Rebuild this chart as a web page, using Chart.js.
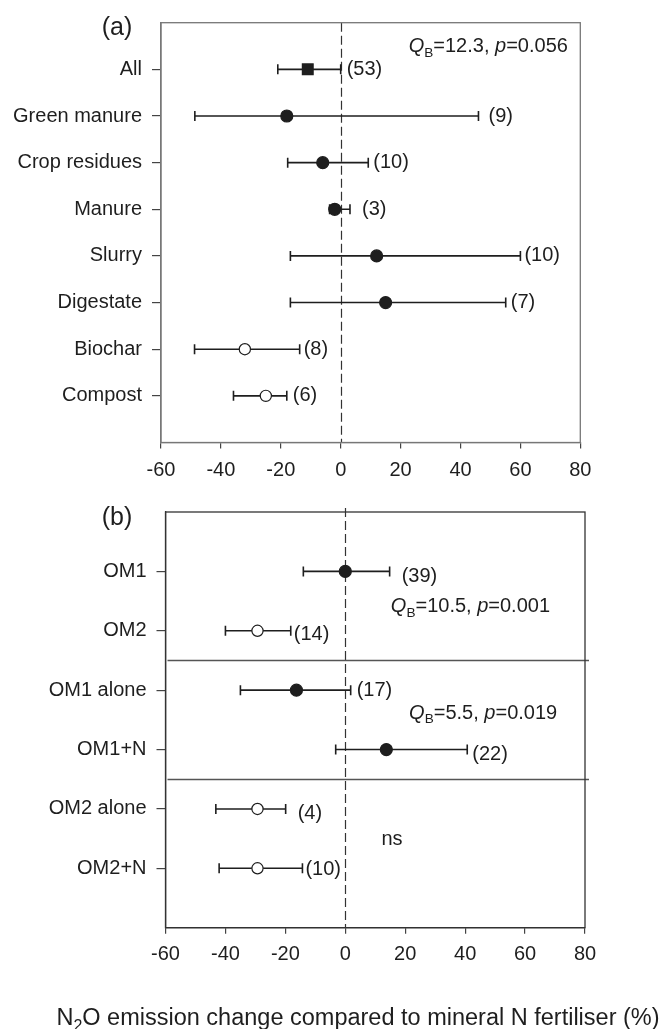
<!DOCTYPE html>
<html>
<head>
<meta charset="utf-8">
<script src="https://cdn.jsdelivr.net/npm/chart.js@4.4.0/dist/chart.umd.min.js"></script>
<style>
  body { margin: 0; background: #fff; }
  canvas { position: absolute; left: 0; }
  #chartA { top: 0; }
  #chartB { top: 490px; }
</style>
</head>
<body>
<canvas id="chartA" width="665" height="490"></canvas>
<canvas id="chartB" width="665" height="539"></canvas>
<script>
// (a) by organic material type
const catsA = ['All', 'Green manure', 'Crop residues', 'Manure', 'Slurry', 'Digestate', 'Biochar', 'Compost'];
const meanA = [-11, -18, -6, -2, 12, 15, -32, -25];
const lowA  = [-21, -48.7, -17.7, -3.7, -16.8, -16.8, -48.8, -35.8];
const highA = [0, 46, 9.2, 3.1, 60, 55.1, -13.7, -18];
const kindA = ['all', 'OM1', 'OM1', 'OM1', 'OM1', 'OM1', 'OM2', 'OM2'];
const nA    = [53, 9, 10, 3, 10, 7, 8, 6];

// (b) by OM group, with and without mineral N
const catsB = ['OM1', 'OM2', 'OM1 alone', 'OM1+N', 'OM2 alone', 'OM2+N'];
const meanB = [0, -29.3, -16.3, 13.7, -29.3, -29.3];
const lowB  = [-14, -40, -35, -3.2, -43.2, -42.1];
const highB = [14.8, -18.2, 1.8, 40.7, -19.9, -14.3];
const kindB = ['OM1', 'OM2', 'OM1', 'OM1', 'OM2', 'OM2'];
const nB    = [39, 14, 17, 22, 4, 10];

const xTicks = [-60, -40, -20, 0, 20, 40, 60, 80];

const FONT = '"Liberation Sans", Arial, Helvetica, sans-serif';
const INK = '#1e1e1e';
const FS = 20;

function drawRich(ctx, segs, x, y, size, align) {
    const fontOf = s => (s.italic ? 'italic ' : '') + (s.sub ? size * 0.68 : size) + 'px ' + FONT;
    let total = 0;
    segs.forEach(s => { ctx.font = fontOf(s); total += ctx.measureText(s.t).width; });
    let cx = align === 'center' ? x - total / 2 : x;
    ctx.textAlign = 'left';
    ctx.textBaseline = 'alphabetic';
    segs.forEach(s => {
        ctx.font = fontOf(s);
        ctx.fillText(s.t, cx, y + (s.sub ? size * 0.24 : 0));
        cx += ctx.measureText(s.t).width;
    });
}

function qbText(qb, p) {
    return [{ t: 'Q', italic: true }, { t: 'B', sub: true }, { t: '=' + qb + ', ' },
            { t: 'p', italic: true }, { t: '=' + p }];
}

const extras = {
    id: 'extras',
    beforeDatasetsDraw(chart, args, o) {
        const { ctx, chartArea: a, scales: { x, y } } = chart;
        ctx.save();
        ctx.strokeStyle = '#333';
        ctx.lineWidth = 1.2;
        ctx.setLineDash([9, 4]);
        const zx = Math.round(x.getPixelForValue(0)) + 0.5;
        ctx.beginPath();
        ctx.moveTo(zx, a.top - o.zeroOver);
        ctx.lineTo(zx, a.bottom);
        ctx.stroke();
        ctx.setLineDash([]);
        ctx.strokeStyle = '#555';
        ctx.lineWidth = 1.3;
        o.separators.forEach(v => {
            const py = Math.round(y.getPixelForValue(v)) + 0.5;
            ctx.beginPath();
            ctx.moveTo(a.left + 2, py);
            ctx.lineTo(a.right + 4, py);
            ctx.stroke();
        });
        ctx.strokeStyle = o.boxColor;
        ctx.strokeRect(a.left, a.top, a.right - a.left, a.bottom - a.top);
        ctx.restore();
    },
    afterDraw(chart, args, o) {
        const { ctx, scales: { x, y } } = chart;
        ctx.save();
        ctx.fillStyle = INK;
        // sample sizes
        ctx.font = FS + 'px ' + FONT;
        ctx.textAlign = 'left';
        ctx.textBaseline = 'middle';
        o.n.forEach((v, i) => {
            ctx.fillText('(' + v + ')', x.getPixelForValue(o.high[i]) + o.gap[i], y.getPixelForValue(i) + o.dy[i]);
        });
        // between-group statistics
        o.notes.forEach(nt => {
            const px = x.getPixelForValue(nt.x), py = y.getPixelForValue(nt.y);
            if (nt.qb) drawRich(ctx, qbText(nt.qb, nt.p), px, py + 7, FS, 'left');
            else drawRich(ctx, [{ t: nt.text }], px, py + 7, FS, 'center');
        });
        // panel letter
        ctx.font = '25px ' + FONT;
        ctx.textAlign = 'center';
        ctx.textBaseline = 'middle';
        ctx.fillText(o.letter, 117, 28);
        if (o.title) drawRich(ctx, o.title.segs, o.title.x, o.title.y, o.title.size, 'center');
        ctx.restore();
    }
};

function buildChart(id, d) {
    const whiskers = d.cats.map((c, i) => ({
        data: [{ x: d.low[i], y: i }, { x: d.high[i], y: i }],
        showLine: true,
        borderColor: INK,
        borderWidth: 1.6,
        pointStyle: 'line',
        pointRotation: 90,
        pointRadius: 5,
        pointBorderWidth: 1.6,
        pointBorderColor: INK,
        order: 1
    }));
    const markers = {
        data: d.mean.map((m, i) => ({ x: m, y: i })),
        pointStyle: d.kind.map(k => k === 'all' ? 'rect' : 'circle'),
        pointRadius: d.kind.map(k => k === 'all' ? 7.6 : (k === 'OM2' ? 5.6 : 6)),
        pointBackgroundColor: d.kind.map(k => k === 'OM2' ? '#fff' : INK),
        pointBorderColor: INK,
        pointBorderWidth: 1.2,
        order: 0
    };
    const a = d.area;
    return new Chart(document.getElementById(id), {
        type: 'scatter',
        data: { datasets: [markers, ...whiskers] },
        options: {
            responsive: false,
            animation: false,
            events: [],
            layout: { padding: { top: a.top, right: 665 - a.right, left: 0, bottom: 0 } },
            plugins: {
                legend: { display: false },
                tooltip: { enabled: false },
                extras: d.extras
            },
            scales: {
                x: {
                    min: -60, max: 80,
                    afterBuildTicks: s => { s.ticks = xTicks.map(v => ({ value: v })); },
                    afterFit: s => { s.height = d.height - a.bottom; },
                    ticks: { font: { family: FONT, size: FS }, color: INK, padding: d.xPad, maxRotation: 0 },
                    grid: { drawOnChartArea: false, tickLength: 6, color: '#444', lineWidth: 1.2 },
                    border: { color: d.extras.boxColor, width: 1.3 }
                },
                y: {
                    min: -1, max: d.cats.length, reverse: true,
                    afterBuildTicks: s => { s.ticks = d.cats.map((c, i) => ({ value: i })); },
                    afterFit: s => { s.width = a.left; },
                    ticks: { font: { family: FONT, size: FS }, color: INK, padding: 10, callback: v => d.cats[v] },
                    grid: { drawOnChartArea: false, tickLength: 9, color: '#444', lineWidth: 1.2 },
                    border: { color: d.extras.boxColor, width: 1.3 }
                }
            }
        },
        plugins: [extras]
    });
}

buildChart('chartA', {
    cats: catsA, mean: meanA, low: lowA, high: highA, kind: kindA,
    height: 490, xPad: 10,
    area: { left: 161, top: 22.7, right: 580.3, bottom: 442.5 },
    extras: {
        n: nA, high: highA,
        gap: [6, 10, 5, 12, 4, 5, 4, 6],
        dy: [0, 0, 0, 0, 0, 0, 0, 0],
        boxColor: '#777',
        zeroOver: 0,
        separators: [],
        notes: [{ qb: '12.3', p: '0.056', x: 22.7, y: -0.52 }],
        letter: '(a)'
    }
});

buildChart('chartB', {
    cats: catsB, mean: meanB, low: lowB, high: highB, kind: kindB,
    height: 539, xPad: 9,
    area: { left: 165.5, top: 21, right: 585, bottom: 437.7 },
    extras: {
        n: nB, high: highB,
        gap: [12, 3, 6, 5, 12, 3],
        dy: [5, 4, 0, 5, 5, 1],
        boxColor: '#333',
        zeroOver: 4,
        separators: [1.5, 3.5],
        notes: [
            { qb: '10.5', p: '0.001', x: 15.2, y: 0.57 },
            { qb: '5.5', p: '0.019', x: 21.3, y: 2.36 },
            { text: 'ns', x: 15.6, y: 4.49 }
        ],
        letter: '(b)',
        title: {
            segs: [{ t: 'N' }, { t: '2', sub: true }, { t: 'O emission change compared to mineral N fertiliser (%)' }],
            x: 358, y: 535, size: 23.5
        }
    }
});
</script>
</body>
</html>
